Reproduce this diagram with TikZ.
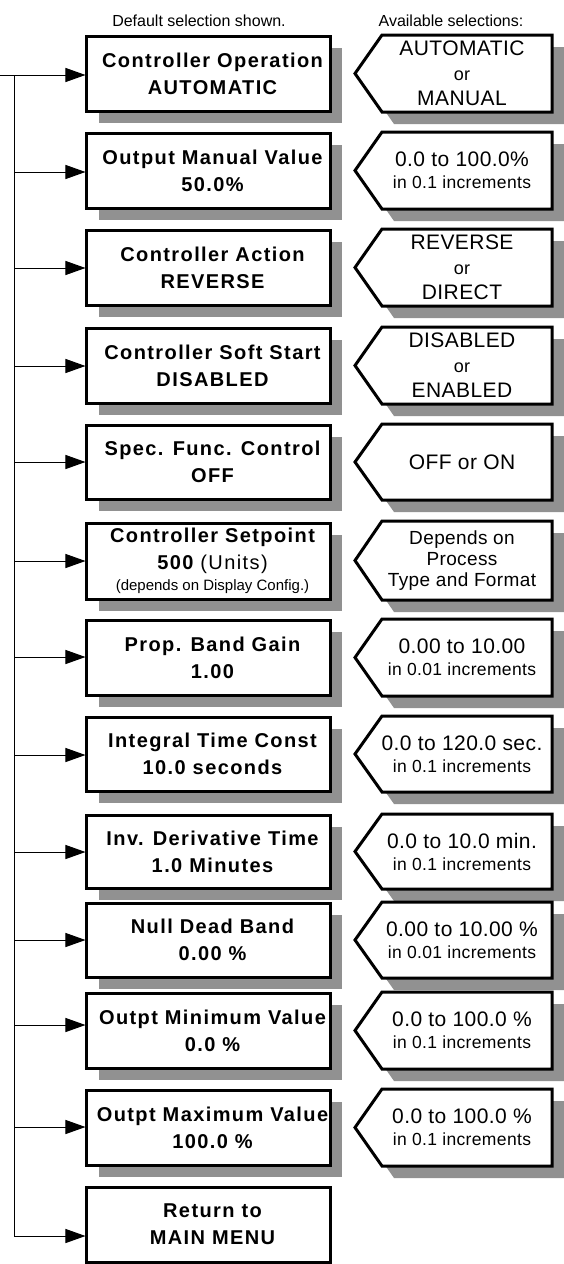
\documentclass[tikz,border=0pt]{standalone}
\usepackage{fontspec}
\setmainfont{Liberation Sans}
\newfontfamily\spfont{Liberation Sans}[LetterSpace=7]
\newfontfamily\rfont{Liberation Sans}[LetterSpace=2]
\usetikzlibrary{arrows.meta}
\definecolor{shadowc}{RGB}{145,145,145}
\tikzset{
  mainbox/.style={draw, line width=3bp, fill=white, minimum width=243bp, inner sep=0pt},
  maintext/.style={inner sep=0pt, align=center,
    font=\spfont\bfseries\fontsize{20bp}{27bp}\selectfont},
  selline/.style={draw, line width=3bp, fill=white, line join=miter},
  seltext/.style={align=center, inner sep=0pt},
  sel2/.style={font=\rfont\fontsize{21bp}{22bp}\selectfont},
  sel3/.style={font=\rfont\fontsize{21bp}{25bp}\selectfont},
  seldep/.style={font=\rfont\fontsize{19bp}{21bp}\selectfont},
  conn/.style={line width=1bp, -{Triangle[length=20bp,width=14bp]}},
  wire/.style={line width=1bp},
  head/.style={font=\fontsize{16bp}{18bp}\selectfont, inner sep=0pt},
}
\newcommand\rsmall[1]{{\fontsize{17.5bp}{20bp}\selectfont #1}}
\newcommand\ror{{\fontsize{18bp}{20bp}\selectfont or}}
% name, top, bottom, arrow y, text
\newcommand\menubox[5]{%
  \pgfmathsetmacro\mbmid{(#2+#3)/2}%
  \fill[shadowc] (99,{#2+12}) rectangle (342,{#3+12});
  \node[mainbox, minimum height={(#3-#2)*1bp}] (#1) at (208.5,\mbmid) {};
  \node[maintext] (#1t) at ([xshift=4bp]#1.center) {#5};
  \coordinate (#1j) at (14,#4);
}
% name, top, bottom, style, text
\newcommand\selbox[5]{%
  \pgfmathsetmacro\sbmid{(#2+#3)/2}%
  \fill[shadowc] (367,{\sbmid+12}) -- (394,{#2+12}) -- (564,{#2+12}) -- (564,{#3+12}) -- (394,{#3+12}) -- cycle;
  \path[selline] (355,\sbmid) -- (382,#2) -- (552,#2) -- (552,#3) -- (382,#3) -- cycle;
  \node[seltext,#4] (#1) at (462,\sbmid) {#5};
}
\begin{document}
\begin{tikzpicture}[x=1bp,y=-1bp]
\useasboundingbox (0,0) rectangle (564,1264);
\node[head] (hdef) at (199,21) {Default selection shown.};
\node[head] (hav) at (451,21) {Available selections:};

\menubox{b1}{36}{111}{75}{Controller Operation\\AUTOMATIC}
\menubox{b2}{133}{208}{172}{Output Manual Value\\50.0\%}
\menubox{b3}{230}{305}{268}{Controller Action\\REVERSE}
\menubox{b4}{328}{403}{366}{Controller Soft Start\\DISABLED}
\menubox{b5}{425}{499}{462}{Spec. Func. Control\\OFF}
\menubox{b6}{523}{599}{561}{Controller Setpoint\\500 {\mdseries (Units)}\\[-6bp]{\normalfont\fontsize{15bp}{18bp}\selectfont (depends on Display Config.)}}
\menubox{b7}{620}{695}{657}{Prop. Band Gain\\1.00}
\menubox{b8}{717}{791}{755}{Integral Time Const\\10.0 seconds}
\menubox{b9}{815}{888}{852}{Inv. Derivative Time\\1.0 Minutes}
\menubox{b10}{903}{977}{940}{Null Dead Band\\0.00 \%}
\menubox{b11}{993}{1068}{1025}{Outpt Minimum Value\\0.0 \%}
\menubox{b12}{1090}{1165}{1127}{Outpt Maximum Value\\100.0 \%}
\node[mainbox, minimum height=75bp] (b13) at (208.5,1224.5) {};
\node[maintext] (b13t) at ([xshift=4bp]b13.center) {Return to\\MAIN MENU};
\coordinate (b13j) at (14,1236);

\selbox{s1}{35}{112}{sel3}{AUTOMATIC\\\ror\\MANUAL}
\selbox{s2}{132}{209}{sel2}{0.0 to 100.0\%\\\rsmall{in 0.1 increments}}
\selbox{s3}{229}{306}{sel3}{REVERSE\\\ror\\DIRECT}
\selbox{s4}{327}{404}{sel3}{DISABLED\\\ror\\ENABLED}
\selbox{s5}{424}{500}{sel2}{OFF or ON}
\selbox{s6}{521}{600}{seldep}{Depends on\\Process\\Type and Format}
\selbox{s7}{619}{696}{sel2}{0.00 to 10.00\\\rsmall{in 0.01 increments}}
\selbox{s8}{716}{792}{sel2}{0.0 to 120.0 sec.\\\rsmall{in 0.1 increments}}
\selbox{s9}{814}{889}{sel2}{0.0 to 10.0 min.\\\rsmall{in 0.1 increments}}
\selbox{s10}{902}{978}{sel2}{0.00 to 10.00 \%\\\rsmall{in 0.01 increments}}
\selbox{s11}{992}{1069}{sel2}{0.0 to 100.0 \%\\\rsmall{in 0.1 increments}}
\selbox{s12}{1089}{1166}{sel2}{0.0 to 100.0 \%\\\rsmall{in 0.1 increments}}

\coordinate (start) at (0,75);
\draw[conn] (start) -- (b1.west |- start);
\draw[wire] (b1j) -- (b13j);
\foreach \k in {2,...,13}{
  \draw[conn] (b\k j) -- (b\k.west |- b\k j);
}
\end{tikzpicture}
\end{document}
